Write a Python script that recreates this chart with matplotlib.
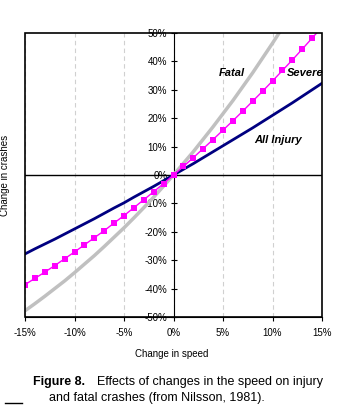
import matplotlib
matplotlib.use("Agg")
import matplotlib.pyplot as plt
from matplotlib.patches import Rectangle
from matplotlib.lines import Line2D

plt.rcParams['font.family'] = ['Liberation Sans', 'DejaVu Sans']

# --- data (percent) ---
speed_change = [-15, -14, -13, -12, -11, -10, -9, -8, -7, -6, -5, -4, -3, -2, -1, 0,
                1, 2, 3, 4, 5, 6, 7, 8, 9, 10, 11, 12, 13, 14, 15]
all_injury = [-27.8, -26.0, -24.3, -22.6, -20.8, -19.0, -17.2, -15.4, -13.5, -11.6, -9.8,
              -7.8, -5.9, -4.0, -2.0, 0.0, 2.0, 4.0, 6.1, 8.2, 10.3, 12.4, 14.5, 16.6,
              18.8, 21.0, 23.2, 25.4, 27.7, 30.0, 32.3]
severe = [-38.6, -36.4, -34.2, -31.9, -29.5, -27.1, -24.6, -22.1, -19.6, -16.9, -14.3,
          -11.5, -8.7, -5.9, -3.0, 0.0, 3.0, 6.1, 9.3, 12.5, 15.8, 19.1, 22.5, 26.0,
          29.5, 33.1, 36.8, 40.5, 44.3, 48.2, 52.1]
fatal = [-47.8, -45.3, -42.7, -40.0, -37.3, -34.4, -31.4, -28.4, -25.2, -21.9, -18.6,
         -15.1, -11.5, -7.8, -3.9, 0.0, 4.1, 8.2, 12.6, 17.0, 21.6, 26.2, 31.1, 36.0,
         41.2, 46.4, 51.8, 57.4, 63.1, 68.9, 74.9]

x_ticks = [-15, -10, -5, 0, 5, 10, 15]
x_tick_labels = ['-15%', '-10%', '-5%', '0%', '5%', '10%', '15%']
y_ticks = [-50, -40, -30, -20, -10, 0, 10, 20, 30, 40, 50]
y_tick_labels = ['-50%', '-40%', '-30%', '-20%', '-10%', '0%', '10%', '20%', '30%', '40%', '50%']

fig = plt.figure(figsize=(3.43, 4.05), dpi=100)
ax = fig.add_axes([25 / 343, 88 / 405, 297 / 343, 284 / 405])

ax.plot(speed_change, fatal, color='#c0c0c0', lw=2.5, zorder=3)
ax.plot(speed_change, all_injury, color='#000080', lw=2, zorder=4)
ax.plot(speed_change, severe, color='#ff00ff', lw=1, marker='s', markersize=4,
        markeredgewidth=0, zorder=5)

ax.set_xlim(-15, 15)
ax.set_ylim(-50, 50)

# y axis sits at x = 0, x ticks on bottom edge
ax.spines['left'].set_position(('data', 0))
ax.spines['right'].set_visible(False)
ax.spines['top'].set_visible(False)
ax.axhline(0, color='black', lw=1, zorder=2)
ax.add_patch(Rectangle((0, 0), 1, 1, transform=ax.transAxes, fill=False,
                       edgecolor='black', lw=1.2, zorder=6, clip_on=False))

ax.set_xticks(x_ticks)
ax.set_xticklabels(x_tick_labels, fontsize=7)
ax.set_yticks(y_ticks)
ax.set_yticklabels(y_tick_labels, fontsize=7)
ax.tick_params(axis='y', direction='inout', length=5, pad=2)
ax.tick_params(axis='x', direction='out', length=3, pad=5)

ax.grid(axis='x', color='#d0d0d0', linestyle=(0, (4, 3)), lw=0.8, zorder=0)

ax.text(4.6, 36, 'Fatal', fontsize=8, style='italic', weight='bold', va='center')
ax.text(11.4, 36, 'Severe', fontsize=8, style='italic', weight='bold', va='center')
ax.text(8.2, 12.3, 'All Injury', fontsize=8, style='italic', weight='bold', va='center')

fig.text(5 / 343, 1 - 175 / 405, 'Change in crashes', rotation=90,
         fontsize=7, ha='center', va='center')
fig.text(172 / 343, 1 - 354 / 405, 'Change in speed', fontsize=7, ha='center', va='center')

fig.text(33 / 343, 1 - 382 / 405, 'Figure 8.', fontsize=9, weight='bold', va='center')
fig.text(97 / 343, 1 - 382 / 405, 'Effects of changes in the speed on injury',
         fontsize=9, va='center')
fig.text(49 / 343, 1 - 398 / 405, 'and fatal crashes (from Nilsson, 1981).',
         fontsize=9, va='center')
fig.add_artist(Line2D([5 / 343, 22 / 343], [1 - 403 / 405, 1 - 403 / 405],
                      color='black', lw=1))

fig.savefig('out.png', dpi=100)
